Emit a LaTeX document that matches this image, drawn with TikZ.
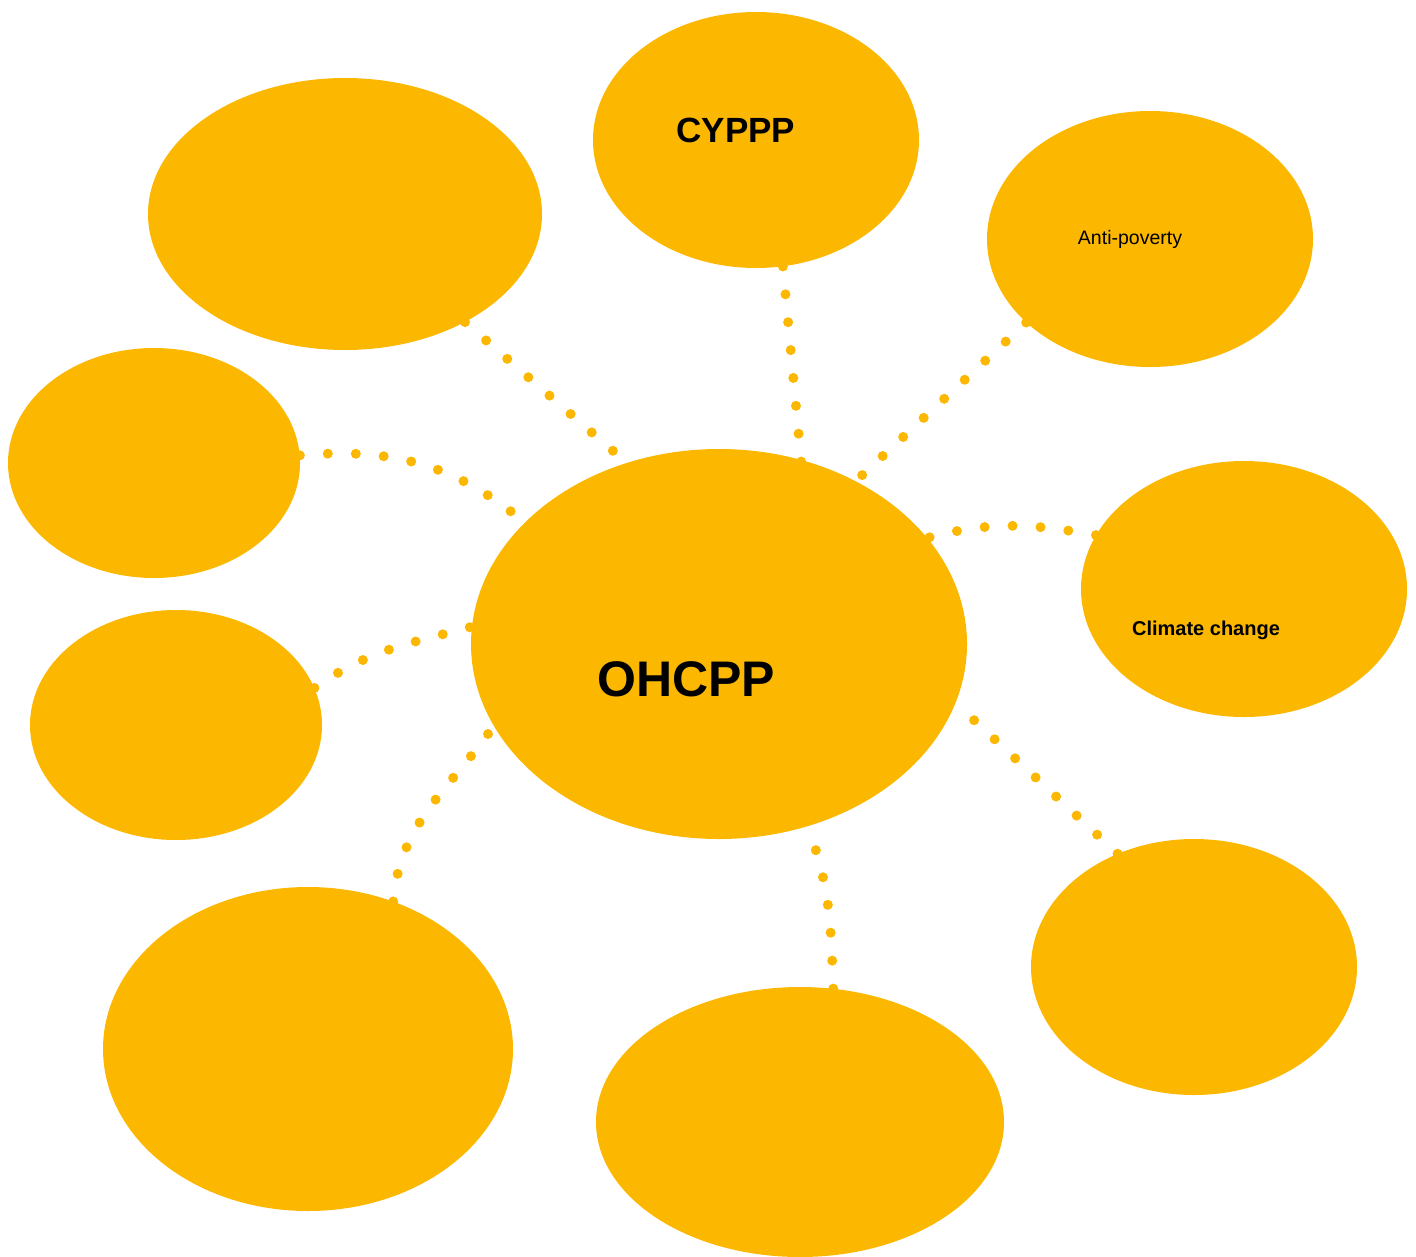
\documentclass[tikz,border=0pt]{standalone}
\usepackage{fontspec}
\setmainfont{Liberation Sans}
\usepackage{tikz}
\usetikzlibrary{shapes.geometric}
\definecolor{Sun}{RGB}{252,183,0}

\begin{document}
\begin{tikzpicture}[x=1pt,y=-1pt,
        bubble/.style={ellipse, fill=Sun, draw=none, inner sep=0pt},
        dots/.style={draw=Sun, line width=10pt, line cap=round, dash pattern=on 0pt off 28pt}]
            \useasboundingbox (0,0) rectangle (1416,1256);
            % the bubbles
            \node [bubble, minimum width=496pt, minimum height=390pt] (ohcpp) at (719,644) {};
            \node [bubble, minimum width=394pt, minimum height=272pt] (topleft) at (345,214) {};
            \node [bubble, minimum width=326pt, minimum height=256pt] (cyppp) at (756,140) {};
            \node [bubble, minimum width=326pt, minimum height=256pt] (poverty) at (1150,239) {};
            \node [bubble, minimum width=292pt, minimum height=230pt] (midleft) at (154,463) {};
            \node [bubble, minimum width=326pt, minimum height=256pt] (climate) at (1244,589) {};
            \node [bubble, minimum width=292pt, minimum height=230pt] (lowleft) at (176,725) {};
            \node [bubble, minimum width=410pt, minimum height=324pt] (botleft) at (308,1049) {};
            \node [bubble, minimum width=408pt, minimum height=270pt] (botmid) at (800,1122) {};
            \node [bubble, minimum width=326pt, minimum height=256pt] (botright) at (1194,967) {};
            % the texts
            \node [font=\fontsize{50}{56}\selectfont\bfseries] (ohcpp-text) at (686,679) {OHCPP};
            \node [font=\fontsize{35}{40}\selectfont\bfseries] (cyppp-text) at (736,130) {CYPPP};
            \node [font=\fontsize{19.5}{22}\selectfont] (poverty-text) at (1130,239) {Anti-poverty};
            \node [font=\fontsize{20}{23}\selectfont\bfseries] (climate-text) at (1206,630) {Climate change};
            % the dotted links
            \draw [dots] (topleft.-42) -- (ohcpp.117);
            \draw [dots, shorten >=-20pt] (cyppp.-78) -- (ohcpp.66);
            \draw [dots] (poverty.214) -- (ohcpp.50);
            \draw [dots] (midleft.3) to[out=5,in=140] (ohcpp.148);
            \draw [dots] (climate.160) to[out=170,in=15] (ohcpp.27);
            \draw [dots] (lowleft.15) to[out=35,in=195] (ohcpp.176);
            \draw [dots] (botleft.60) to[out=85,in=235] (ohcpp.200);
            \draw [dots] (botmid.76) to[out=92,in=-70] (ohcpp.-64);
            \draw [dots] (botright.124) -- (ohcpp.-14);
        \end{tikzpicture}
\end{document}
